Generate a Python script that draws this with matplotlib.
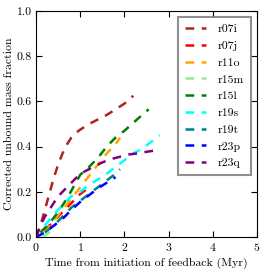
import matplotlib
matplotlib.use('Agg')
import matplotlib.pyplot as plt

plt.rcParams['font.family'] = 'serif'
plt.rcParams['font.serif'] = ['cmr10', 'DejaVu Serif']
plt.rcParams['axes.formatter.use_mathtext'] = True
plt.rcParams['mathtext.fontset'] = 'cm'

runs = ['r07i', 'r07j', 'r11o', 'r15m', 'r15l', 'r19s', 'r19t', 'r23p', 'r23q']
colors = ['firebrick', 'red', 'orange', 'lightgreen', 'green',
          'cyan', 'teal', 'blue', 'purple']

# time since feedback started (Myr) and corrected unbound fraction
t_r07i = [0, 0.1, 0.2, 0.3, 0.4, 0.5, 0.6, 0.7, 0.8, 0.9, 1.0, 1.2, 1.4, 1.6, 1.8, 2.0, 2.2]
f_r07i = [0, 0.05, 0.12, 0.19, 0.26, 0.32, 0.37, 0.41, 0.44, 0.46, 0.475, 0.5, 0.52, 0.54, 0.565, 0.59, 0.625]
t_r07j = [0.2, 0.4, 0.6, 0.8, 1.0, 1.2]
f_r07j = [0.03, 0.07, 0.11, 0.15, 0.19, 0.22]
t_r11o = [0.2, 0.4, 0.6, 0.8, 1.0, 1.2, 1.4, 1.6, 1.8, 1.9]
f_r11o = [0.02, 0.07, 0.12, 0.17, 0.22, 0.27, 0.32, 0.37, 0.41, 0.44]
t_r15m = [0.15, 0.3, 0.45]
f_r15m = [0.0, 0.02, 0.05]
t_r15l = [0.1, 0.3, 0.5, 0.7, 0.9, 1.0, 1.2, 1.4, 1.6, 1.8, 2.0, 2.2, 2.4, 2.55]
f_r15l = [0.02, 0.06, 0.11, 0.17, 0.24, 0.275, 0.31, 0.35, 0.40, 0.44, 0.47, 0.505, 0.54, 0.565]
t_r19s = [0.2, 0.4, 0.6, 0.8, 1.0, 1.2, 1.4, 1.6, 1.8, 2.0, 2.2, 2.4, 2.6, 2.8]
f_r19s = [0.05, 0.1, 0.14, 0.18, 0.2, 0.23, 0.255, 0.28, 0.31, 0.34, 0.37, 0.39, 0.42, 0.45]
t_r19t = [0.2, 0.4, 0.6, 0.8, 1.0, 1.2, 1.4, 1.6, 1.8, 1.9]
f_r19t = [0.02, 0.05, 0.09, 0.13, 0.16, 0.19, 0.22, 0.25, 0.28, 0.3]
t_r23p = [0.0, 0.2, 0.4, 0.6, 0.8, 1.0, 1.2, 1.4, 1.6, 1.8]
f_r23p = [0.0, 0.02, 0.05, 0.08, 0.12, 0.155, 0.185, 0.215, 0.24, 0.265]
t_r23q = [0, 0.1, 0.2, 0.3, 0.4, 0.5, 0.7, 0.9, 1.1, 1.3, 1.5, 1.7, 1.9, 2.1, 2.3, 2.5, 2.7, 2.8]
f_r23q = [0, 0.05, 0.09, 0.12, 0.15, 0.18, 0.22, 0.26, 0.29, 0.31, 0.33, 0.345, 0.355, 0.365, 0.37, 0.377, 0.383, 0.385]

times = [t_r07i, t_r07j, t_r11o, t_r15m, t_r15l, t_r19s, t_r19t, t_r23p, t_r23q]
fracs = [f_r07i, f_r07j, f_r11o, f_r15m, f_r15l, f_r19s, f_r19t, f_r23p, f_r23q]

fig = plt.figure(figsize=(2.66, 2.72), dpi=100)
ax = fig.add_axes([36 / 266, 1 - 237 / 272, 221 / 266, 226 / 272])

for name, c, t, f in zip(runs, colors, times, fracs):
    ax.plot(t, f, '--', color=c, lw=1.8, dashes=(3.5, 3), label=name)

ax.set_xlim(0, 5)
ax.set_ylim(0, 1)
ax.set_xticks([0, 1, 2, 3, 4, 5])
ax.set_yticks([0.0, 0.2, 0.4, 0.6, 0.8, 1.0])
ax.set_yticklabels(['0.0', '0.2', '0.4', '0.6', '0.8', '1.0'])
ax.tick_params(direction='in', top=True, right=True, labelsize=8.5, length=4, pad=3)
ax.set_xlabel('Time from initiation of feedback (Myr)', fontsize=8.5, labelpad=3)
ax.set_ylabel('Corrected unbound mass fraction', fontsize=8.5, labelpad=2)

leg = ax.legend(loc='upper right', fontsize=8.5, handlelength=1.8, labelspacing=0.55,
                borderpad=0.6, handletextpad=1.0, borderaxespad=0.5, fancybox=False)
leg.get_frame().set_edgecolor('0.45')
leg.get_frame().set_linewidth(1.5)

fig.savefig('out.png', dpi=100, facecolor='white')
